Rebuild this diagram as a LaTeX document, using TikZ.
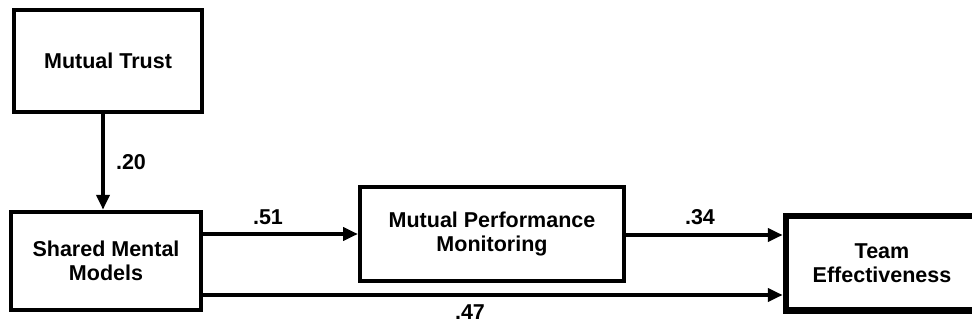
\documentclass[tikz,border=0pt]{standalone}
\usepackage{fontspec}
\setmainfont{Liberation Sans}
\usetikzlibrary{arrows.meta,positioning,calc}
\tikzset{
  sem/box/.style={
    draw,
    line width=4pt,
    align=center,
    font=\bfseries\fontsize{21.5}{24}\selectfont,
    inner sep=0pt
  },
  sem/outcome/.style={sem/box, line width=6.5pt},
  sem/path/.style={line width=4pt, -{Triangle[length=15pt,width=13pt]}},
  sem/coef/.style={font=\bfseries\fontsize{21.5}{24}\selectfont, inner sep=0pt}
}
\begin{document}
\begin{tikzpicture}[x=1pt, y=-1pt]
\useasboundingbox (0,0) rectangle (972,329);

\node (trust) [sem/box, minimum width=188pt, minimum height=101.5pt] at (108,61) {Mutual Trust};
\node (smm)   [sem/box, minimum width=190.5pt, minimum height=98.5pt] at (106,261) {Shared Mental\\Models};
\node (mpm)   [sem/box, minimum width=264pt, minimum height=93.5pt] at (492,234) {Mutual Performance\\Monitoring};
\node (team)  [sem/outcome, minimum width=192pt, minimum height=94.5pt] at (882,263) {Team\\Effectiveness};

% --- paths
\draw[sem/path] ([xshift=-5pt]trust.south) -- ([xshift=-5pt]trust.south |- smm.north);
\draw[sem/path] (smm.east |- mpm.west) -- (mpm.west);
\draw[sem/path] ([yshift=-1pt]mpm.east) -- ([yshift=-1pt]team.west |- mpm.east);
\draw[sem/path] ([yshift=-34pt]smm.east) -- ([yshift=-34pt]smm.east -| team.west);

% --- coefficients
\node (c20) [sem/coef] at (131,162) {.20};
\node (c51) [sem/coef] at (268,217) {.51};
\node (c34) [sem/coef] at (700,217) {.34};
\node (c47) [sem/coef] at (470,312) {.47};

\end{tikzpicture}
\end{document}
